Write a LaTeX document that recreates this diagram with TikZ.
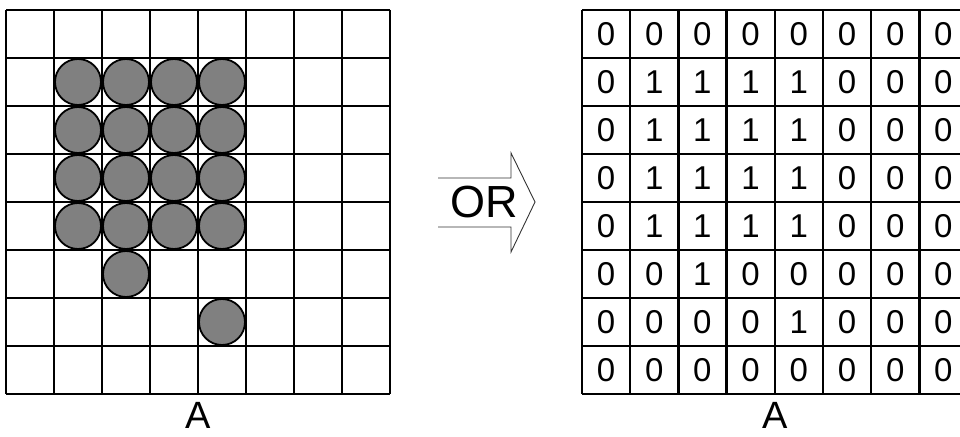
\documentclass[tikz,border=0pt]{standalone}
\usepackage{fontspec}
\setmainfont{Liberation Sans}
\begin{document}
\begin{tikzpicture}[x=1pt,y=-1pt,
  gridline/.style={line width=2.5pt},
  dot/.style={circle,draw=black,line width=1.8pt,fill=black!50,minimum size=46pt,inner sep=0pt},
  digit/.style={font=\fontsize{33}{33}\selectfont,inner sep=0pt,anchor=center},
  lbl/.style={font=\fontsize{38}{38}\selectfont,inner sep=0pt,anchor=base},
  arrowshape/.style={draw=black!80,line width=0.9pt,fill=white}]
\useasboundingbox (0,0) rectangle (960,436);
% left grid
\foreach \i in {0,...,8} {
  \draw[gridline] (6+48*\i,10) -- (6+48*\i,394);
  \draw[gridline] (6,10+48*\i) -- (390,10+48*\i);
}
% circles
\foreach \r in {1,...,4} {
  \foreach \c in {1,...,4} {
    \node[dot] (d\r\c) at (30+48*\c,34+48*\r) {};
  }
}
\node[dot] (d52) at (30+48*2,34+48*5) {};
\node[dot] (d64) at (30+48*4,34+48*6) {};
\node[lbl] (la) at (198,428.5) {A};
% arrow
\draw[arrowshape] (438,178) -- (511,178) -- (511,153) -- (535,202) -- (511,252) -- (511,227) -- (438,227);
\node[font=\fontsize{45}{45}\selectfont,inner sep=0pt] (or) at (484,202) {OR};
% right grid
\foreach \i in {0,...,8} {
  \draw[gridline] (582+48.2*\i,10) -- (582+48.2*\i,394);
  \draw[gridline] (582,10+48*\i) -- (582+48.2*8,10+48*\i);
}
\foreach \row [count=\r from 0] in {
  {0,0,0,0,0,0,0,0},
  {0,1,1,1,1,0,0,0},
  {0,1,1,1,1,0,0,0},
  {0,1,1,1,1,0,0,0},
  {0,1,1,1,1,0,0,0},
  {0,0,1,0,0,0,0,0},
  {0,0,0,0,1,0,0,0},
  {0,0,0,0,0,0,0,0}} {
  \foreach \v [count=\c from 0] in \row {
    \node[digit] (v\r\c) at (606+48.2*\c,34+48*\r) {\v};
  }
}
\node[lbl] (lb) at (775,428.5) {A};
\end{tikzpicture}
\end{document}
